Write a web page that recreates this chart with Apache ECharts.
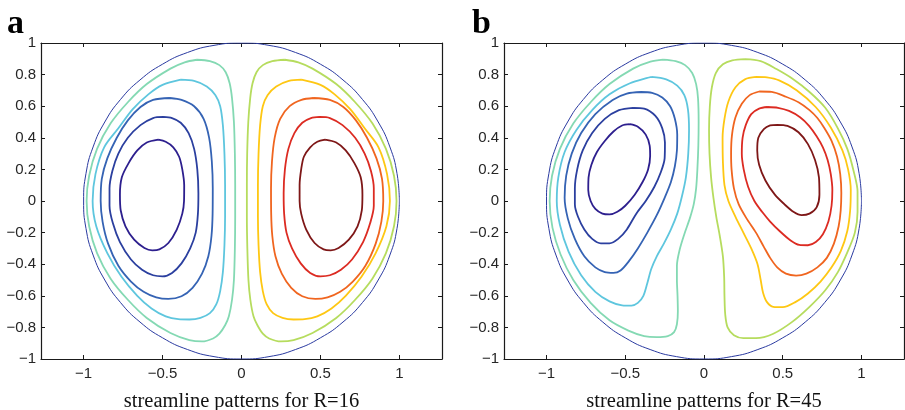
<!DOCTYPE html>
<html>
<head>
<meta charset="utf-8">
<script src="https://cdn.jsdelivr.net/npm/echarts@6/dist/echarts.min.js"></script>
<style>html,body{margin:0;padding:0;background:#fff}#c{width:905px;height:410px}</style>
</head>
<body>
<div id="c"></div>
<script>
// ---------- tick labels ----------
const xTicks = [-1, -0.5, 0, 0.5, 1];
const yTicks = [-1, -0.8, -0.6, -0.4, -0.2, 0, 0.2, 0.4, 0.6, 0.8, 1];
const panelLetters = ['a', 'b'];
const panelCaptions = ['streamline patterns for R=16', 'streamline patterns for R=45'];

// ---------- boundary circle (unit circle, 10 degree steps) ----------
const boundary = [[1,0],[0.985,0.174],[0.940,0.342],[0.866,0.5],[0.766,0.643],[0.643,0.766],[0.5,0.866],[0.342,0.940],[0.174,0.985],[0,1],[-0.174,0.985],[-0.342,0.940],[-0.5,0.866],[-0.643,0.766],[-0.766,0.643],[-0.866,0.5],[-0.940,0.342],[-0.985,0.174],[-1,0],[-0.985,-0.174],[-0.940,-0.342],[-0.866,-0.5],[-0.766,-0.643],[-0.643,-0.766],[-0.5,-0.866],[-0.342,-0.940],[-0.174,-0.985],[0,-1],[0.174,-0.985],[0.342,-0.940],[0.5,-0.866],[0.643,-0.766],[0.766,-0.643],[0.866,-0.5],[0.940,-0.342],[0.985,-0.174],[1,0]];

// ---------- panel a (R=16) streamlines ----------
const a1 = [[-0.527,0.388],[-0.48,0.375],[-0.432,0.34],[-0.395,0.28],[-0.375,0.2],[-0.363,0.1],[-0.364,0.0],[-0.375,-0.08],[-0.41,-0.181],[-0.463,-0.266],[-0.52,-0.306],[-0.565,-0.312],[-0.615,-0.297],[-0.68,-0.245],[-0.735,-0.16],[-0.765,-0.06],[-0.77,0.04],[-0.758,0.15],[-0.715,0.24],[-0.66,0.32],[-0.6,0.37],[-0.527,0.388]];
const a2 = [[-0.495,0.532],[-0.44,0.525],[-0.385,0.495],[-0.335,0.43],[-0.3,0.33],[-0.28,0.2],[-0.273,0.05],[-0.276,-0.08],[-0.29,-0.2],[-0.325,-0.3],[-0.38,-0.395],[-0.44,-0.455],[-0.5,-0.477],[-0.56,-0.47],[-0.63,-0.435],[-0.7,-0.37],[-0.77,-0.26],[-0.815,-0.14],[-0.836,-0.03],[-0.836,0.08],[-0.818,0.19],[-0.78,0.3],[-0.72,0.4],[-0.64,0.48],[-0.56,0.525],[-0.495,0.532]];
const a3 = [[-0.453,0.652],[-0.38,0.64],[-0.3,0.6],[-0.24,0.52],[-0.205,0.4],[-0.188,0.25],[-0.182,0.08],[-0.183,-0.08],[-0.19,-0.22],[-0.21,-0.35],[-0.25,-0.46],[-0.31,-0.55],[-0.38,-0.603],[-0.464,-0.62],[-0.54,-0.61],[-0.62,-0.575],[-0.7,-0.51],[-0.78,-0.41],[-0.845,-0.27],[-0.88,-0.13],[-0.892,0.0],[-0.885,0.14],[-0.85,0.27],[-0.79,0.4],[-0.72,0.51],[-0.64,0.595],[-0.56,0.64],[-0.453,0.652]];
const a4 = [[-0.385,0.768],[-0.3,0.76],[-0.22,0.725],[-0.165,0.67],[-0.135,0.6],[-0.118,0.48],[-0.108,0.3],[-0.104,0.1],[-0.104,-0.1],[-0.108,-0.28],[-0.118,-0.45],[-0.135,-0.57],[-0.16,-0.655],[-0.2,-0.71],[-0.26,-0.74],[-0.33,-0.75],[-0.4,-0.748],[-0.48,-0.73],[-0.57,-0.68],[-0.66,-0.6],[-0.76,-0.48],[-0.85,-0.33],[-0.92,-0.16],[-0.943,0.0],[-0.925,0.17],[-0.87,0.34],[-0.78,0.46],[-0.69,0.58],[-0.59,0.675],[-0.5,0.735],[-0.385,0.768]];
const a5 = [[-0.283,0.894],[-0.2,0.885],[-0.14,0.86],[-0.1,0.815],[-0.075,0.745],[-0.06,0.65],[-0.048,0.5],[-0.042,0.3],[-0.04,0.1],[-0.04,-0.1],[-0.042,-0.3],[-0.048,-0.5],[-0.06,-0.625],[-0.08,-0.73],[-0.103,-0.785],[-0.14,-0.84],[-0.18,-0.87],[-0.251,-0.889],[-0.33,-0.88],[-0.45,-0.835],[-0.6,-0.74],[-0.72,-0.625],[-0.83,-0.49],[-0.915,-0.33],[-0.965,-0.16],[-0.981,0.0],[-0.965,0.16],[-0.915,0.33],[-0.83,0.49],[-0.72,0.625],[-0.6,0.74],[-0.45,0.838],[-0.36,0.878],[-0.283,0.894]];
const a6 = [[0.275,0.894],[0.195,0.885],[0.135,0.86],[0.095,0.815],[0.07,0.745],[0.055,0.65],[0.043,0.5],[0.036,0.3],[0.034,0.1],[0.034,-0.1],[0.037,-0.3],[0.044,-0.5],[0.056,-0.625],[0.076,-0.73],[0.1,-0.785],[0.135,-0.84],[0.175,-0.87],[0.25,-0.889],[0.33,-0.88],[0.45,-0.835],[0.6,-0.74],[0.72,-0.625],[0.83,-0.49],[0.915,-0.33],[0.966,-0.16],[0.982,0.0],[0.966,0.16],[0.915,0.33],[0.83,0.49],[0.72,0.625],[0.6,0.74],[0.45,0.838],[0.36,0.878],[0.275,0.894]];
const a7 = [[0.38,0.768],[0.3,0.76],[0.22,0.725],[0.165,0.67],[0.135,0.6],[0.118,0.48],[0.108,0.3],[0.104,0.1],[0.104,-0.1],[0.108,-0.28],[0.118,-0.45],[0.135,-0.57],[0.16,-0.655],[0.2,-0.71],[0.26,-0.74],[0.33,-0.75],[0.4,-0.748],[0.48,-0.73],[0.57,-0.68],[0.66,-0.6],[0.76,-0.48],[0.85,-0.33],[0.918,-0.16],[0.94,0.0],[0.922,0.17],[0.868,0.34],[0.78,0.46],[0.69,0.58],[0.59,0.675],[0.5,0.735],[0.38,0.768]];
const a8 = [[0.455,0.652],[0.38,0.64],[0.305,0.6],[0.245,0.52],[0.21,0.4],[0.193,0.25],[0.187,0.08],[0.188,-0.08],[0.195,-0.22],[0.215,-0.35],[0.255,-0.46],[0.315,-0.55],[0.385,-0.603],[0.468,-0.62],[0.545,-0.61],[0.625,-0.575],[0.705,-0.51],[0.785,-0.41],[0.85,-0.27],[0.886,-0.13],[0.898,0.0],[0.89,0.14],[0.855,0.27],[0.795,0.4],[0.725,0.51],[0.645,0.595],[0.56,0.64],[0.455,0.652]];
const a9 = [[0.495,0.532],[0.44,0.525],[0.385,0.495],[0.335,0.43],[0.297,0.33],[0.275,0.2],[0.267,0.05],[0.27,-0.08],[0.285,-0.2],[0.32,-0.3],[0.375,-0.395],[0.435,-0.455],[0.5,-0.477],[0.56,-0.47],[0.63,-0.435],[0.7,-0.37],[0.77,-0.26],[0.815,-0.14],[0.838,-0.03],[0.838,0.08],[0.82,0.19],[0.78,0.3],[0.72,0.4],[0.64,0.48],[0.56,0.525],[0.495,0.532]];
const a10 = [[0.53,0.388],[0.48,0.375],[0.435,0.34],[0.395,0.28],[0.378,0.2],[0.368,0.1],[0.368,0.0],[0.378,-0.08],[0.41,-0.181],[0.463,-0.266],[0.52,-0.306],[0.565,-0.312],[0.615,-0.297],[0.68,-0.245],[0.735,-0.16],[0.762,-0.06],[0.766,0.04],[0.755,0.15],[0.715,0.24],[0.66,0.32],[0.6,0.37],[0.53,0.388]];

// ---------- panel b (R=45) streamlines ----------
const b1 = [[-0.471,0.486],[-0.42,0.47],[-0.37,0.42],[-0.345,0.35],[-0.342,0.285],[-0.355,0.2],[-0.39,0.12],[-0.44,0.04],[-0.5,-0.03],[-0.55,-0.068],[-0.6,-0.085],[-0.645,-0.08],[-0.69,-0.05],[-0.72,0.0],[-0.735,0.07],[-0.733,0.15],[-0.715,0.23],[-0.68,0.31],[-0.63,0.38],[-0.575,0.44],[-0.52,0.478],[-0.471,0.486]];
const b2 = [[-0.45,0.59],[-0.38,0.585],[-0.31,0.54],[-0.265,0.46],[-0.248,0.37],[-0.25,0.27],[-0.275,0.18],[-0.315,0.09],[-0.37,0.0],[-0.43,-0.08],[-0.49,-0.18],[-0.545,-0.24],[-0.6,-0.268],[-0.655,-0.268],[-0.71,-0.24],[-0.76,-0.18],[-0.8,-0.1],[-0.82,-0.02],[-0.82,0.08],[-0.805,0.2],[-0.77,0.32],[-0.71,0.43],[-0.63,0.52],[-0.54,0.575],[-0.45,0.59]];
const b3 = [[-0.4,0.69],[-0.33,0.685],[-0.265,0.655],[-0.215,0.6],[-0.185,0.52],[-0.17,0.42],[-0.172,0.32],[-0.185,0.22],[-0.21,0.12],[-0.25,0.02],[-0.3,-0.09],[-0.36,-0.2],[-0.42,-0.3],[-0.48,-0.385],[-0.53,-0.44],[-0.575,-0.455],[-0.63,-0.45],[-0.69,-0.42],[-0.76,-0.35],[-0.82,-0.24],[-0.865,-0.11],[-0.885,0.02],[-0.875,0.16],[-0.84,0.3],[-0.78,0.43],[-0.69,0.55],[-0.58,0.64],[-0.49,0.68],[-0.4,0.69]];
const b4 = [[-0.334,0.785],[-0.24,0.77],[-0.17,0.73],[-0.125,0.67],[-0.102,0.58],[-0.095,0.45],[-0.1,0.3],[-0.115,0.15],[-0.14,0.03],[-0.17,-0.08],[-0.21,-0.18],[-0.255,-0.27],[-0.3,-0.35],[-0.335,-0.43],[-0.36,-0.52],[-0.385,-0.6],[-0.42,-0.645],[-0.46,-0.662],[-0.52,-0.66],[-0.6,-0.635],[-0.69,-0.575],[-0.78,-0.47],[-0.86,-0.32],[-0.915,-0.15],[-0.935,0.0],[-0.925,0.15],[-0.885,0.31],[-0.81,0.45],[-0.71,0.575],[-0.6,0.675],[-0.47,0.745],[-0.334,0.785]];
const b5 = [[-0.26,0.895],[-0.18,0.885],[-0.12,0.86],[-0.075,0.81],[-0.05,0.74],[-0.038,0.65],[-0.034,0.5],[-0.036,0.35],[-0.042,0.2],[-0.05,0.08],[-0.065,-0.02],[-0.09,-0.11],[-0.125,-0.21],[-0.155,-0.31],[-0.172,-0.41],[-0.172,-0.5],[-0.168,-0.6],[-0.166,-0.7],[-0.172,-0.78],[-0.19,-0.83],[-0.23,-0.855],[-0.3,-0.862],[-0.38,-0.855],[-0.48,-0.82],[-0.6,-0.755],[-0.72,-0.645],[-0.83,-0.5],[-0.91,-0.34],[-0.962,-0.17],[-0.98,0.0],[-0.965,0.16],[-0.915,0.33],[-0.83,0.49],[-0.72,0.625],[-0.6,0.74],[-0.45,0.838],[-0.34,0.882],[-0.26,0.895]];
const b6 = [[0.26,0.898],[0.36,0.885],[0.46,0.835],[0.56,0.775],[0.67,0.69],[0.77,0.59],[0.85,0.46],[0.91,0.33],[0.95,0.19],[0.975,0.06],[0.975,-0.07],[0.958,-0.2],[0.91,-0.325],[0.85,-0.45],[0.77,-0.565],[0.67,-0.67],[0.56,-0.765],[0.44,-0.84],[0.33,-0.868],[0.25,-0.868],[0.19,-0.85],[0.15,-0.8],[0.135,-0.72],[0.13,-0.6],[0.128,-0.48],[0.12,-0.35],[0.1,-0.22],[0.078,-0.1],[0.06,0.02],[0.045,0.15],[0.035,0.3],[0.032,0.45],[0.037,0.6],[0.05,0.72],[0.075,0.81],[0.12,0.865],[0.18,0.89],[0.26,0.898]];
const b7 = [[0.33,0.785],[0.4,0.782],[0.477,0.763],[0.588,0.701],[0.709,0.595],[0.805,0.465],[0.879,0.32],[0.915,0.2],[0.932,0.07],[0.928,-0.06],[0.91,-0.19],[0.869,-0.316],[0.81,-0.42],[0.74,-0.51],[0.66,-0.585],[0.58,-0.64],[0.5,-0.672],[0.44,-0.67],[0.4,-0.64],[0.375,-0.58],[0.36,-0.5],[0.34,-0.4],[0.3,-0.3],[0.25,-0.2],[0.2,-0.1],[0.155,0.0],[0.13,0.1],[0.12,0.25],[0.118,0.4],[0.13,0.52],[0.155,0.63],[0.2,0.72],[0.26,0.77],[0.33,0.785]];
const b8 = [[0.35,0.693],[0.43,0.69],[0.52,0.66],[0.6,0.625],[0.67,0.575],[0.72,0.525],[0.765,0.46],[0.81,0.38],[0.845,0.28],[0.865,0.17],[0.872,0.05],[0.868,-0.06],[0.855,-0.16],[0.825,-0.27],[0.78,-0.36],[0.72,-0.42],[0.65,-0.46],[0.585,-0.472],[0.52,-0.46],[0.465,-0.42],[0.42,-0.36],[0.38,-0.29],[0.33,-0.2],[0.27,-0.11],[0.22,-0.02],[0.19,0.08],[0.175,0.2],[0.172,0.3],[0.178,0.42],[0.2,0.53],[0.24,0.615],[0.29,0.67],[0.35,0.693]];
const b9 = [[0.403,0.595],[0.47,0.59],[0.54,0.57],[0.61,0.53],[0.667,0.476],[0.715,0.41],[0.755,0.34],[0.785,0.26],[0.805,0.17],[0.815,0.07],[0.81,-0.03],[0.79,-0.13],[0.755,-0.21],[0.71,-0.26],[0.66,-0.28],[0.605,-0.278],[0.55,-0.25],[0.48,-0.19],[0.42,-0.13],[0.37,-0.07],[0.32,0.0],[0.28,0.09],[0.252,0.2],[0.24,0.3],[0.245,0.4],[0.265,0.48],[0.3,0.55],[0.35,0.585],[0.403,0.595]];
const b10 = [[0.466,0.482],[0.53,0.475],[0.6,0.435],[0.66,0.36],[0.705,0.26],[0.73,0.15],[0.733,0.04],[0.715,-0.04],[0.67,-0.08],[0.62,-0.09],[0.57,-0.07],[0.51,-0.02],[0.45,0.04],[0.39,0.13],[0.35,0.23],[0.338,0.32],[0.345,0.4],[0.38,0.455],[0.42,0.478],[0.466,0.482]];

const levelColors = ['#2d1f8e','#2b3f9f','#3563b4','#5ec6de','#84d9b3','#b6dc5e','#fec713','#f0651f','#dc2b22','#7e1717'];
const boundaryColor = '#2a3aa0';

const panelA = [a1,a2,a3,a4,a5,a6,a7,a8,a9,a10];
const panelB = [b1,b2,b3,b4,b5,b6,b7,b8,b9,b10];

// ---------- chart ----------
const chart = echarts.init(document.getElementById('c'), null, {renderer: 'canvas'});
const fmt = v => (v < 0 ? '\u2212' + String(Math.abs(v)) : String(v));
const axisCol = '#1a1a1a';
const labelFont = {fontSize: 15, color: '#262626', fontFamily: 'Liberation Sans'};

function xAxis(g, pos, label) {
  return {
    type: 'value', gridIndex: g, position: pos, min: -1.27, max: 1.27,
    axisLine: {show: true, onZero: false, lineStyle: {color: axisCol, width: 1.2}},
    axisTick: {show: true, inside: true, length: 4, customValues: xTicks, lineStyle: {color: axisCol}},
    axisLabel: Object.assign({show: label, customValues: xTicks, formatter: fmt, margin: 7}, labelFont),
    splitLine: {show: false},
    name: label ? panelCaptions[g] : '', nameLocation: 'middle', nameGap: 32,
    nameTextStyle: {fontFamily: 'Liberation Serif', fontSize: 20.5, color: '#111'}
  };
}
function yAxis(g, pos, label) {
  return {
    type: 'value', gridIndex: g, position: pos, min: -1, max: 1,
    axisLine: {show: true, onZero: false, lineStyle: {color: axisCol, width: 1.2}},
    axisTick: {show: true, inside: true, length: 4, customValues: yTicks, lineStyle: {color: axisCol}},
    axisLabel: Object.assign({show: label, customValues: yTicks, formatter: fmt, margin: 5}, labelFont),
    splitLine: {show: false}
  };
}

const series = [];
[panelA, panelB].forEach((panel, g) => {
  series.push({type: 'line', xAxisIndex: g * 2, yAxisIndex: g * 2, data: boundary, showSymbol: false, symbol: 'none',
    smooth: 0.5, lineStyle: {color: boundaryColor, width: 1}, silent: true});
  panel.forEach((curve, i) => {
    series.push({type: 'line', xAxisIndex: g * 2, yAxisIndex: g * 2, data: curve, showSymbol: false, symbol: 'none',
      smooth: 0.3, lineStyle: {color: levelColors[i], width: 1.8}, silent: true});
  });
});

chart.setOption({
  animation: false,
  backgroundColor: '#fff',
  title: panelLetters.map((t, i) => ({text: t, left: i === 0 ? 7 : 472, top: 7, padding: 0,
    textStyle: {fontFamily: 'Liberation Serif', fontWeight: 'bold', fontSize: 34, color: '#000'}})),
  grid: [
    {left: 41, top: 43, width: 401, height: 316, containLabel: false, outerBoundsMode: 'none'},
    {left: 504, top: 43, width: 400, height: 316, containLabel: false, outerBoundsMode: 'none'}
  ],
  xAxis: [xAxis(0, 'bottom', true), xAxis(0, 'top', false), xAxis(1, 'bottom', true), xAxis(1, 'top', false)],
  yAxis: [yAxis(0, 'left', true), yAxis(0, 'right', false), yAxis(1, 'left', true), yAxis(1, 'right', false)],
  series: series
});
</script>
</body>
</html>
